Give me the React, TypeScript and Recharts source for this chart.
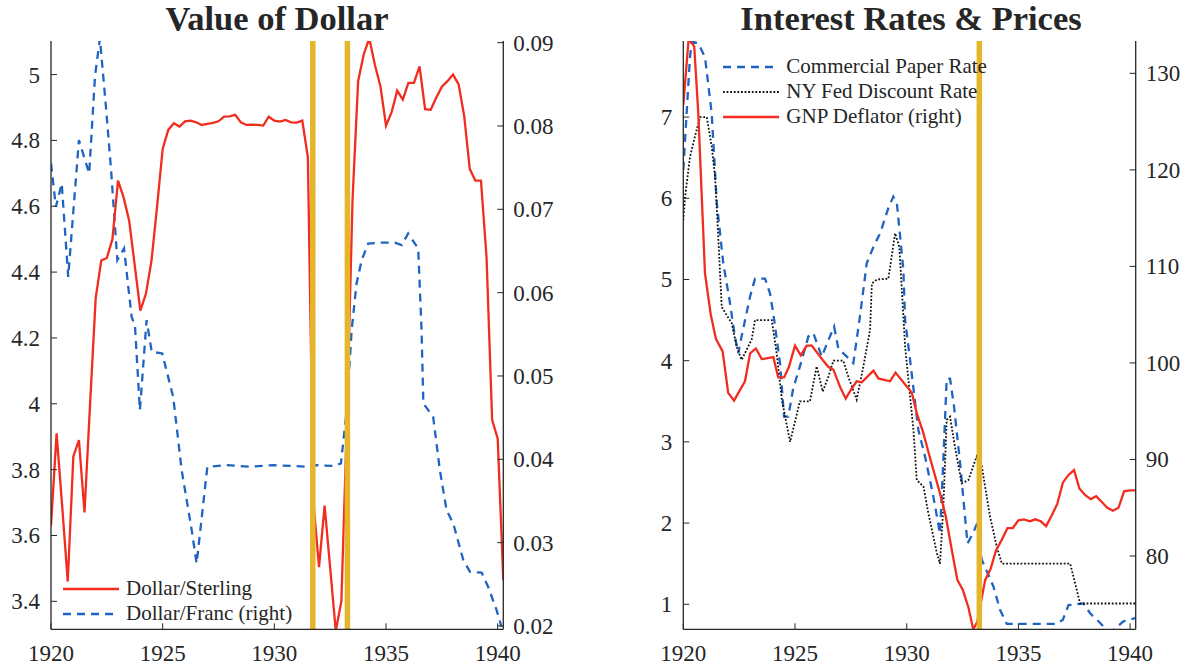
import React from 'react';
import { LineChart, Line, XAxis, YAxis, ReferenceLine, Legend } from 'recharts';

// ---------- data ----------
const xTicks = [1920, 1925, 1930, 1935, 1940];
const sterlingTicks = [3.4, 3.6, 3.8, 4, 4.2, 4.4, 4.6, 4.8, 5];
const francTicks = [0.02, 0.03, 0.04, 0.05, 0.06, 0.07, 0.08, 0.09];
const rateTicks = [1, 2, 3, 4, 5, 6, 7];
const deflatorTicks = [80, 90, 100, 110, 120, 130];
const goldDatesLeft = [1931.72, 1933.27];
const goldDatesRight = [1933.25];

const sterlingYears = [
  1920.0, 1920.25, 1920.5, 1920.75, 1921.0, 1921.25, 1921.5, 1921.75, 1922.0, 1922.25, 1922.5, 1922.75,
  1923.0, 1923.25, 1923.5, 1923.75, 1924.0, 1924.25, 1924.5, 1924.75, 1925.0, 1925.25, 1925.5, 1925.75,
  1926.0, 1926.25, 1926.5, 1926.75, 1927.0, 1927.25, 1927.5, 1927.75, 1928.0, 1928.25, 1928.5, 1928.75,
  1929.0, 1929.25, 1929.5, 1929.75, 1930.0, 1930.25, 1930.5, 1930.75, 1931.0, 1931.25, 1931.5, 1931.75,
  1932.0, 1932.25, 1932.5, 1932.75, 1933.0, 1933.25, 1933.5, 1933.75, 1934.0, 1934.25, 1934.5, 1934.75,
  1935.0, 1935.25, 1935.5, 1935.75, 1936.0, 1936.25, 1936.5, 1936.75, 1937.0, 1937.25, 1937.5, 1937.75,
  1938.0, 1938.25, 1938.5, 1938.75, 1939.0, 1939.25, 1939.5, 1939.75, 1940.0, 1940.25,
];
const sterlingValues = [
  3.63, 3.91, 3.69, 3.46, 3.84, 3.89, 3.67, 4.0, 4.32, 4.435, 4.443, 4.5,
  4.678, 4.627, 4.556, 4.42, 4.283, 4.334, 4.435, 4.6, 4.774, 4.832, 4.852, 4.842,
  4.858, 4.86, 4.855, 4.847, 4.85, 4.853, 4.858, 4.872, 4.873, 4.878, 4.855, 4.847,
  4.848, 4.847, 4.845, 4.872, 4.86, 4.857, 4.862, 4.855, 4.854, 4.86, 4.749, 3.7,
  3.504, 3.691, 3.5, 3.31, 3.4, 3.95, 4.62, 4.98, 5.061, 5.11, 5.03, 4.964,
  4.845, 4.886, 4.951, 4.924, 4.975, 4.975, 5.025, 4.895, 4.893, 4.93, 4.963, 4.98,
  5.0, 4.97, 4.874, 4.713, 4.678, 4.678, 4.445, 3.951, 3.894, 3.464,
];

const francYears = [
  1920.0, 1920.22, 1920.48, 1920.77, 1921.25, 1921.71, 1921.97, 1922.19, 1922.46, 1922.69, 1922.97,
  1923.27, 1923.61, 1923.76, 1923.98, 1924.28, 1924.51, 1924.98, 1925.47, 1925.85, 1926.3, 1926.52,
  1927.0, 1927.86, 1928.91, 1929.95, 1931.59, 1931.89, 1932.64, 1932.98, 1933.24, 1933.46, 1933.68,
  1933.91, 1934.2, 1934.73, 1935.4, 1935.7, 1935.99, 1936.44, 1936.59, 1936.67, 1937.11, 1937.41,
  1937.71, 1938.01, 1938.46, 1938.76, 1939.28, 1939.57, 1939.95, 1940.17,
];
const francValues = [
  0.0755, 0.0703, 0.0731, 0.0619, 0.0783, 0.0743, 0.086, 0.0905, 0.0823, 0.0747, 0.0639,
  0.0653, 0.0571, 0.056, 0.0459, 0.0567, 0.0529, 0.0527, 0.0475, 0.0387, 0.0315, 0.0275,
  0.0391, 0.0393, 0.0391, 0.0393, 0.0391, 0.0393, 0.0392, 0.0395, 0.0459, 0.0555, 0.0611,
  0.0639, 0.0659, 0.066, 0.066, 0.0657, 0.0671, 0.0653, 0.0555, 0.0467, 0.0451, 0.0387,
  0.0339, 0.0323, 0.0279, 0.0265, 0.0264, 0.0247, 0.0219, 0.0199,
];

const paperYears = [
  1920.0, 1920.15, 1920.3, 1920.38, 1920.67, 1920.97, 1921.27, 1921.5, 1921.79, 1922.09, 1922.31,
  1922.46, 1922.61, 1922.99, 1923.21, 1923.66, 1923.88, 1924.03, 1924.33, 1924.51, 1924.7, 1924.92,
  1925.22, 1925.6, 1925.82, 1926.2, 1926.49, 1926.75, 1926.94, 1927.32, 1927.61, 1927.91, 1928.21,
  1928.51, 1928.81, 1929.18, 1929.4, 1929.56, 1929.85, 1929.93, 1930.15, 1930.52, 1930.82, 1931.19,
  1931.49, 1931.64, 1931.79, 1931.94, 1932.12, 1932.39, 1932.72, 1932.96, 1933.16, 1933.36, 1933.88,
  1934.18, 1934.48, 1936.72, 1936.99, 1937.24, 1937.91, 1938.21, 1938.66, 1938.96, 1939.25, 1939.7,
  1940.23,
];
const paperValues = [
  6.35, 7.05, 7.74, 7.93, 7.91, 7.74, 7.05, 5.94, 5.2, 4.71, 4.3,
  4.09, 4.3, 4.79, 5.01, 5.01, 4.83, 4.58, 3.97, 3.31, 3.31, 3.66,
  3.93, 4.3, 4.34, 4.05, 4.25, 4.42, 4.15, 4.05, 3.97, 4.55, 5.2,
  5.4, 5.57, 5.88, 6.02, 5.94, 5.12, 4.5, 4.01, 3.15, 2.82, 2.33,
  1.87, 2.78, 3.78, 3.78, 3.43, 2.74, 1.75, 1.87, 2.0, 1.55, 1.22,
  0.93, 0.76, 0.76, 0.81, 0.99, 1.01, 0.89, 0.77, 0.68, 0.68, 0.79,
  0.83,
];

const discountYears = [
  1920.0, 1920.08, 1920.3, 1920.52, 1920.75, 1921.05, 1921.27, 1921.42, 1921.52, 1921.72, 1922.17,
  1922.39, 1922.61, 1923.06, 1923.21, 1923.96, 1924.18, 1924.41, 1924.78, 1925.22, 1925.67, 1925.97,
  1926.24, 1926.49, 1926.72, 1927.16, 1927.39, 1927.76, 1928.06, 1928.36, 1928.44, 1928.66, 1929.18,
  1929.48, 1929.67, 1929.93, 1930.3, 1930.45, 1930.75, 1930.97, 1931.35, 1931.49, 1931.64, 1931.79,
  1931.94, 1932.16, 1932.46, 1932.76, 1933.13, 1933.36, 1933.73, 1934.03, 1934.26, 1937.32, 1937.76,
  1940.23,
];
const discountValues = [
  5.73, 6.02, 6.51, 6.76, 7.0, 7.0, 6.64, 6.27, 5.77, 4.66, 4.46,
  4.17, 4.01, 4.26, 4.5, 4.5, 4.09, 3.52, 3.0, 3.5, 3.5, 3.93,
  3.62, 3.8, 4.0, 4.0, 3.8, 3.52, 3.93, 4.38, 4.95, 5.0, 5.01,
  5.57, 5.4, 4.17, 3.15, 2.53, 2.45, 2.12, 1.63, 1.5, 2.2, 3.27,
  3.31, 2.94, 2.49, 2.53, 2.82, 2.7, 2.08, 1.71, 1.5, 1.5, 1.01,
  1.01,
];

const deflatorYears = [
  1920.0, 1920.24, 1920.49, 1920.67, 1920.97, 1921.23, 1921.46, 1921.76, 1922.01, 1922.27, 1922.76,
  1922.99, 1923.25, 1923.51, 1924.03, 1924.25, 1924.51, 1924.73, 1925.0, 1925.26, 1925.52, 1925.75,
  1926.24, 1926.49, 1926.72, 1927.02, 1927.27, 1927.5, 1927.76, 1927.99, 1928.51, 1928.73, 1929.25,
  1929.5, 1930.23, 1930.45, 1930.75, 1931.05, 1931.49, 1931.75, 1932.02, 1932.27, 1932.51, 1932.76,
  1932.98, 1933.16, 1933.51, 1933.76, 1934.0, 1934.26, 1934.51, 1934.75, 1935.0, 1935.25, 1935.52,
  1935.75, 1936.0, 1936.24, 1936.49, 1936.74, 1936.99, 1937.24, 1937.49, 1937.73, 1937.99, 1938.24,
  1938.48, 1938.73, 1938.98, 1939.23, 1939.48, 1939.73, 1940.0, 1940.23,
];
const deflatorValues = [
  126.7, 133.6, 132.8, 125.9, 109.3, 105.0, 102.5, 101.2, 96.9, 96.1, 98.1,
  101.0, 101.5, 100.4, 100.6, 98.5, 98.5, 99.6, 101.8, 100.8, 101.8, 101.8,
  100.3, 99.6, 99.3, 97.5, 96.3, 97.2, 98.1, 98.0, 99.2, 98.4, 98.1,
  99.0, 96.9, 94.8, 92.7, 90.1, 86.5, 84.1, 80.6, 77.5, 76.5, 74.7,
  72.4, 73.2, 77.5, 78.7, 80.6, 81.7, 82.9, 82.9, 83.7, 83.8, 83.6,
  83.8, 83.6, 83.1, 84.2, 85.4, 87.6, 88.4, 88.9, 87.0, 86.3, 85.9,
  86.2, 85.6, 85.0, 84.7, 85.0, 86.7, 86.8, 86.8,
];

const leftLegendLabels = ['Dollar/Sterling', 'Dollar/Franc (right)'];
const rightLegendLabels = ['Commercial Paper Rate', 'NY Fed Discount Rate', 'GNP Deflator (right)'];
const titles = ['Value of Dollar', 'Interest Rates & Prices'];

const zip = (ts: number[], vs: number[]) => ts.map((t, i) => ({ t, v: vs[i] }));
const sterlingData = zip(sterlingYears, sterlingValues);
const francData = zip(francYears, francValues);
const paperData = zip(paperYears, paperValues);
const discountData = zip(discountYears, discountValues);
const deflatorData = zip(deflatorYears, deflatorValues);

// ---------- style ----------
const FONT = '"Liberation Serif", "Times New Roman", Times, serif';
const AXIS = '#262626';
const RED = '#f22c1e';
const BLUE = '#1f64c0';
const BLACK = '#111111';
const GOLD = '#e5b52a';
const TICK_FS = 23;
const TICK_LEN = 6;
const LW = 2.3;

const fmt = (v: number) => String(v);

const LeftTick = (props: any) => {
  const { x, y, payload } = props;
  return (
    <g>
      <line x1={x} x2={x + TICK_LEN} y1={y} y2={y} stroke={AXIS} strokeWidth={1} />
      <text x={x - 11} y={y + 8} textAnchor="end" fontSize={TICK_FS} fontFamily={FONT} fill={AXIS}>
        {fmt(payload.value)}
      </text>
    </g>
  );
};
const RightTick = (props: any) => {
  const { x, y, payload } = props;
  return (
    <g>
      <line x1={x} x2={x - TICK_LEN} y1={y} y2={y} stroke={AXIS} strokeWidth={1} />
      <text x={x + 10} y={y + 8} textAnchor="start" fontSize={TICK_FS} fontFamily={FONT} fill={AXIS}>
        {fmt(payload.value)}
      </text>
    </g>
  );
};
const BottomTick = (props: any) => {
  const { x, y, payload } = props;
  return (
    <g>
      <line x1={x} x2={x} y1={y} y2={y - TICK_LEN} stroke={AXIS} strokeWidth={1} />
      <text x={x} y={y + 32} textAnchor="middle" fontSize={TICK_FS} fontFamily={FONT} fill={AXIS}>
        {fmt(payload.value)}
      </text>
    </g>
  );
};
const TopTick = (props: any) => {
  const { x, y } = props;
  return <line x1={x} x2={x} y1={y} y2={y + TICK_LEN} stroke={AXIS} strokeWidth={1} />;
};

type LegendItem = { label: string; color: string; dash?: string; width: number };

const makeLegend = (items: LegendItem[]) => () => (
  <div style={{ fontFamily: FONT, fontSize: 21, color: AXIS }}>
    {items.map((it) => (
      <div key={it.label} style={{ display: 'flex', alignItems: 'center', height: 25, whiteSpace: 'nowrap' }}>
        <svg width={56} height={10} style={{ marginRight: 7, display: 'block' }}>
          <line x1={0} x2={56} y1={5} y2={5} stroke={it.color} strokeWidth={it.width} strokeDasharray={it.dash} />
        </svg>
        <span style={{ lineHeight: '25px' }}>{it.label}</span>
      </div>
    ))}
  </div>
);

const leftLegend = makeLegend([
  { label: leftLegendLabels[0], color: RED, width: LW },
  { label: leftLegendLabels[1], color: BLUE, width: LW, dash: '8 6' },
]);
const rightLegend = makeLegend([
  { label: rightLegendLabels[0], color: BLUE, width: LW, dash: '8 6' },
  { label: rightLegendLabels[1], color: BLACK, width: 1.8, dash: '1.8 1.8' },
  { label: rightLegendLabels[2], color: RED, width: LW },
]);

const axisLine = { stroke: AXIS, strokeWidth: 1.3 };
const X_DOMAIN: [number, number] = [1920, 1940.25];

export default function App() {
  return (
    <div style={{ position: 'absolute', left: 0, top: 0, width: 1188, height: 667, background: '#fff' }}>
      <svg width={1188} height={45} style={{ position: 'absolute', left: 0, top: 0 }}>
        <text x={277} y={30} textAnchor="middle" fontSize={34.5} fontWeight="bold" fontFamily={FONT} fill={AXIS}>
          {titles[0]}
        </text>
        <text x={911} y={30} textAnchor="middle" fontSize={34.5} fontWeight="bold" fontFamily={FONT} fill={AXIS}>
          {titles[1]}
        </text>
      </svg>

      <div style={{ position: 'absolute', left: 0, top: 0 }}>
        <LineChart width={600} height={667} margin={{ top: 41, right: 0, bottom: 0, left: 0 }}>
          <XAxis
            xAxisId="b" dataKey="t" type="number" domain={X_DOMAIN} allowDataOverflow ticks={xTicks}
            height={37.7} tickSize={0} tickMargin={0} tickLine={false} axisLine={axisLine} tick={<BottomTick />}
          />
          <XAxis
            xAxisId="top" orientation="top" dataKey="t" type="number" domain={X_DOMAIN} allowDataOverflow ticks={xTicks}
            height={0} tickSize={0} tickMargin={0} tickLine={false} axisLine={axisLine} tick={<TopTick />}
          />
          <YAxis
            yAxisId="L" type="number" domain={[3.315, 5.102]} allowDataOverflow ticks={sterlingTicks}
            width={51} tickSize={0} tickMargin={0} tickLine={false} axisLine={axisLine} tick={<LeftTick />}
          />
          <YAxis
            yAxisId="R" orientation="right" type="number" domain={[0.0196, 0.0902]} allowDataOverflow ticks={francTicks}
            width={96.7} tickSize={0} tickMargin={0} tickLine={false} axisLine={axisLine} tick={<RightTick />}
          />
          <Line
            xAxisId="b" yAxisId="R" data={francData} dataKey="v" type="linear" stroke={BLUE} strokeWidth={LW}
            strokeDasharray="8 6" dot={false} activeDot={false} isAnimationActive={false}
          />
          <Line
            xAxisId="b" yAxisId="L" data={sterlingData} dataKey="v" type="linear" stroke={RED} strokeWidth={LW}
            dot={false} activeDot={false} isAnimationActive={false}
          />
          {goldDatesLeft.map((d) => (
            <ReferenceLine key={d} xAxisId="b" yAxisId="L" x={d} stroke={GOLD} strokeWidth={5.5} />
          ))}
          <Legend
            layout="vertical" align="center" verticalAlign="middle" content={leftLegend}
            wrapperStyle={{ left: 63, top: 576, width: 'auto', height: 'auto' }}
          />
        </LineChart>
      </div>

      <div style={{ position: 'absolute', left: 600, top: 0 }}>
        <LineChart width={588} height={667} margin={{ top: 41, right: 0, bottom: 0, left: 0 }}>
          <XAxis
            xAxisId="b" dataKey="t" type="number" domain={X_DOMAIN} allowDataOverflow ticks={xTicks}
            height={37.7} tickSize={0} tickMargin={0} tickLine={false} axisLine={axisLine} tick={<BottomTick />}
          />
          <XAxis
            xAxisId="top" orientation="top" dataKey="t" type="number" domain={X_DOMAIN} allowDataOverflow ticks={xTicks}
            height={0} tickSize={0} tickMargin={0} tickLine={false} axisLine={axisLine} tick={<TopTick />}
          />
          <YAxis
            yAxisId="L" type="number" domain={[0.692, 7.937]} allowDataOverflow ticks={rateTicks}
            width={83.3} tickSize={0} tickMargin={0} tickLine={false} axisLine={axisLine} tick={<LeftTick />}
          />
          <YAxis
            yAxisId="R" orientation="right" type="number" domain={[72.41, 133.35]} allowDataOverflow ticks={deflatorTicks}
            width={52.3} tickSize={0} tickMargin={0} tickLine={false} axisLine={axisLine} tick={<RightTick />}
          />
          <Line
            xAxisId="b" yAxisId="L" data={paperData} dataKey="v" type="linear" stroke={BLUE} strokeWidth={LW}
            strokeDasharray="8 6" dot={false} activeDot={false} isAnimationActive={false}
          />
          <Line
            xAxisId="b" yAxisId="L" data={discountData} dataKey="v" type="linear" stroke={BLACK} strokeWidth={1.8}
            strokeDasharray="1.8 1.8" dot={false} activeDot={false} isAnimationActive={false}
          />
          <Line
            xAxisId="b" yAxisId="R" data={deflatorData} dataKey="v" type="linear" stroke={RED} strokeWidth={LW}
            dot={false} activeDot={false} isAnimationActive={false}
          />
          {goldDatesRight.map((d) => (
            <ReferenceLine key={d} xAxisId="b" yAxisId="L" x={d} stroke={GOLD} strokeWidth={5.5} />
          ))}
          <Legend
            layout="vertical" align="center" verticalAlign="middle" content={rightLegend}
            wrapperStyle={{ left: 123.3, top: 54.2, width: 'auto', height: 'auto' }}
          />
        </LineChart>
      </div>
    </div>
  );
}
